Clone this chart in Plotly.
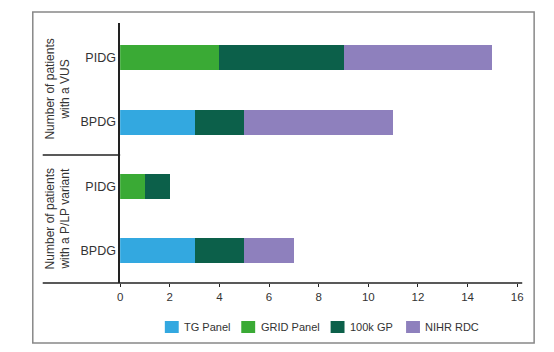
import plotly.graph_objects as go

# Categories bottom -> top
categories = ["BPDG", "PIDG", "BPDG", "PIDG"]
groups = ["Number of patients<br>with a P/LP variant", "Number of patients<br>with a VUS"]

tg_panel = [3, 0, 3, 0]
grid_panel = [0, 1, 0, 4]
gp_100k = [2, 1, 2, 5]
nihr_rdc = [2, 0, 6, 6]

series_names = ["TG Panel", "GRID Panel", "100k GP", "NIHR RDC"]
series_values = [tg_panel, grid_panel, gp_100k, nihr_rdc]
series_colors = ["#33a8e0", "#3aaa35", "#0c604a", "#8e80bd"]

# legend swatch left edges (pixels)
legend_x = [163, 240, 330, 406]

W, H = 554, 352
def px(x):
    return x / W
def py(y):
    return 1 - y / H

ypos = list(range(len(categories)))

fig = go.Figure()
for name, vals, col in zip(series_names, series_values, series_colors):
    fig.add_trace(go.Bar(
        y=ypos, x=vals, name=name, orientation="h",
        marker=dict(color=col, line=dict(width=0)),
        width=0.39, showlegend=False,
    ))

fig.update_layout(
    width=W, height=H,
    margin=dict(l=0, r=0, t=0, b=0),
    paper_bgcolor="white", plot_bgcolor="white",
    barmode="stack",
    font=dict(family="Liberation Sans, Arial, sans-serif", color="#333333", size=11),
    showlegend=False,
    xaxis=dict(domain=[px(118), px(523)], range=[0, 16.2], tickvals=list(range(0, 17, 2)),
               showgrid=False, zeroline=False, showline=False,
               ticks="outside", ticklen=3, tickcolor="#222222",
               tickfont=dict(size=11.5, color="#333333")),
    yaxis=dict(domain=[py(283), py(23)], range=[-0.5, 3.54],
               tickvals=ypos, ticktext=categories,
               showgrid=False, zeroline=False, showline=True, linecolor="#222222", linewidth=1.5,
               ticks="", tickfont=dict(size=12.5, color="#333333")),
)

shapes = [
    # outer frame
    dict(type="rect", xref="paper", yref="paper", x0=px(30), x1=px(535), y0=py(343), y1=py(12),
         line=dict(color="#888888", width=1.5)),
    # x axis line (extended left)
    dict(type="line", xref="paper", yref="paper", x0=px(40), x1=px(523), y0=py(283), y1=py(283),
         line=dict(color="#222222", width=1.5)),
    # group divider
    dict(type="line", xref="paper", yref="paper", x0=px(40), x1=px(118), y0=py(155), y1=py(155),
         line=dict(color="#222222", width=1.5)),
]
# manual legend
for name, col, lx in zip(series_names, series_colors, legend_x):
    shapes.append(dict(type="rect", xref="paper", yref="paper", x0=px(lx), x1=px(lx + 14),
                       y0=py(333), y1=py(321), fillcolor=col, line=dict(width=0)))
    fig.add_annotation(text=name, xref="paper", yref="paper", x=px(lx + 17.5), y=py(327),
                       showarrow=False, xanchor="left", yanchor="middle",
                       font=dict(size=11, color="#333333"))
fig.update_layout(shapes=shapes)

fig.add_annotation(text=groups[1], xref="paper", yref="paper", x=px(55), y=py(89),
                   showarrow=False, textangle=-90, font=dict(size=12, color="#333333"),
                   xanchor="center", yanchor="middle")
fig.add_annotation(text=groups[0], xref="paper", yref="paper", x=px(55), y=py(219),
                   showarrow=False, textangle=-90, font=dict(size=12, color="#333333"),
                   xanchor="center", yanchor="middle")

fig.write_html("out.html")
